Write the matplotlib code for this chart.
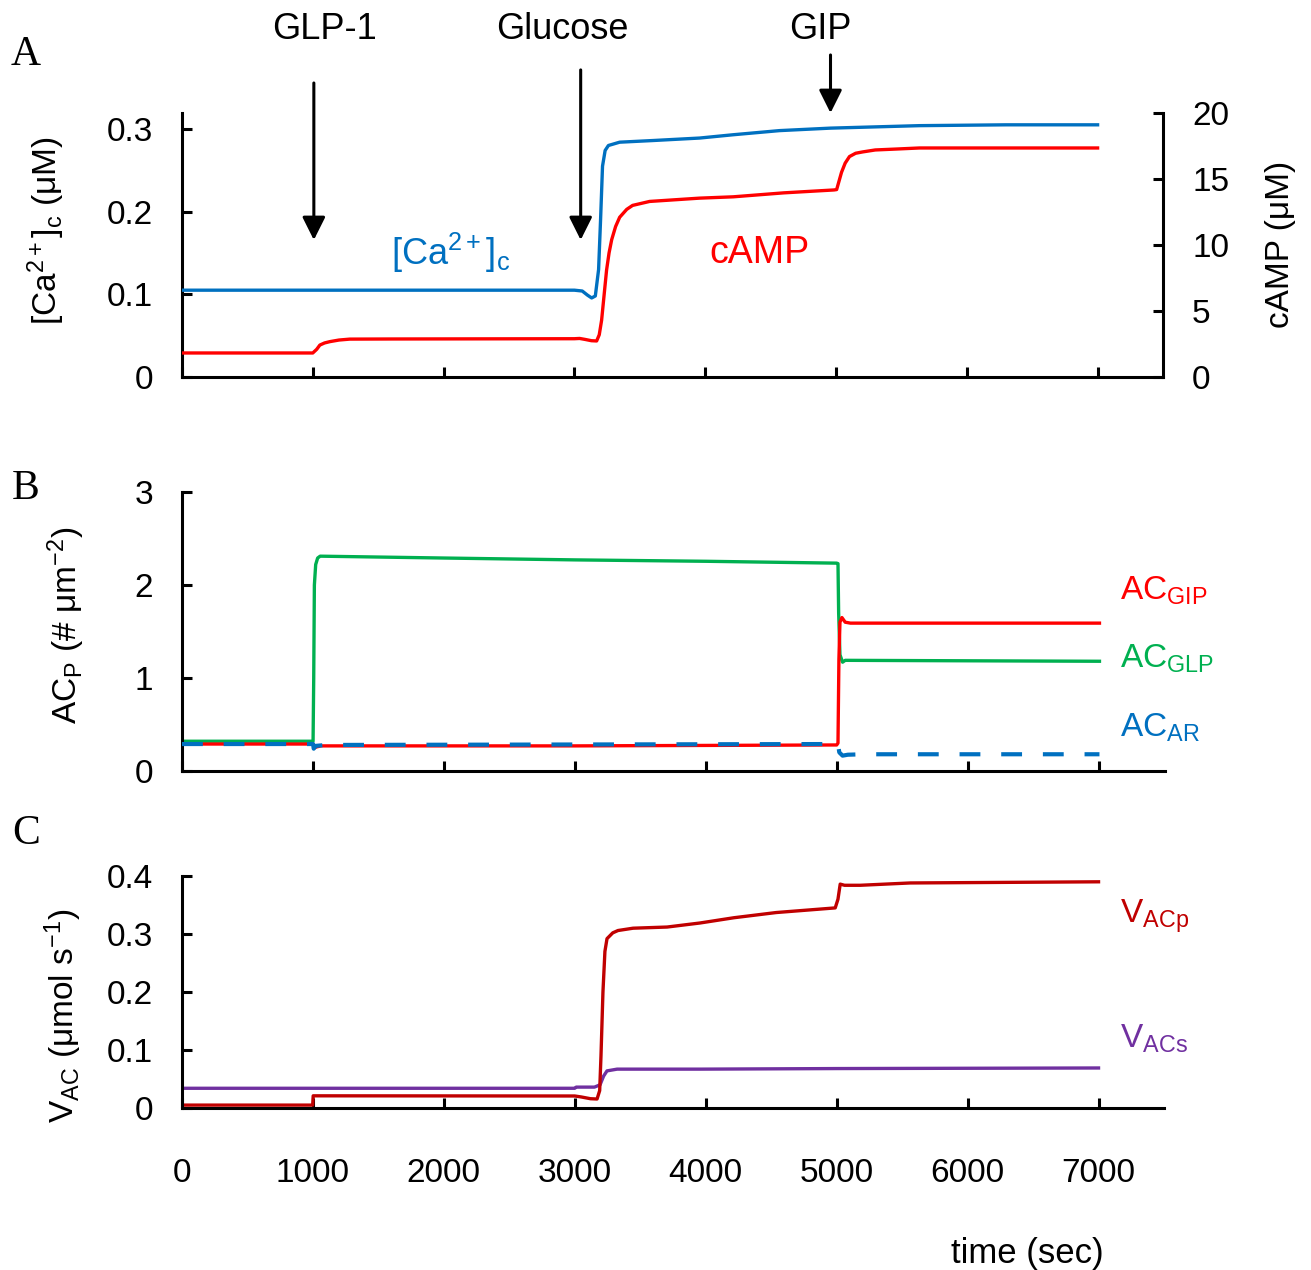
import numpy as np
import matplotlib
matplotlib.use('Agg')
import matplotlib.pyplot as plt

plt.rcParams['font.family'] = ['Liberation Sans', 'DejaVu Sans']
plt.rcParams['mathtext.fontset'] = 'custom'
plt.rcParams['mathtext.rm'] = 'Liberation Sans'
plt.rcParams['mathtext.it'] = 'Liberation Sans:italic'
plt.rcParams['mathtext.bf'] = 'Liberation Sans:bold'

# ---- data ----
# stimulus events
event_names = ['GLP-1', 'Glucose', 'GIP']
event_times = [1008, 3048, 4958]

# panel A: [Ca2+]c (uM, left axis)
ca_t = [0, 1000, 2000, 3000, 3060, 3100, 3132, 3160, 3185, 3200, 3215, 3235,
        3260, 3346, 3600, 3957, 4214, 4568, 4958, 5638, 6300, 7000]
ca_v = [0.105, 0.105, 0.105, 0.105, 0.104, 0.099, 0.0956, 0.098, 0.13, 0.19,
        0.255, 0.274, 0.280, 0.284, 0.286, 0.289, 0.293, 0.298, 0.301, 0.304,
        0.305, 0.305]

# panel A: cAMP (uM, right axis)
camp_t = [0, 1000, 1030, 1054, 1090, 1131, 1200, 1283, 1600, 3000, 3040, 3080,
          3130, 3170, 3190, 3208, 3230, 3246, 3265, 3285, 3315, 3346, 3400,
          3445, 3575, 3957, 4214, 4600, 4985, 5005, 5042, 5070, 5103, 5150,
          5203, 5300, 5462, 5638, 7000]
camp_v = [1.82, 1.82, 2.1, 2.42, 2.58, 2.68, 2.8, 2.87, 2.88, 2.9, 2.92, 2.85,
          2.75, 2.73, 3.2, 4.3, 6.5, 8.1, 9.4, 10.4, 11.4, 12.1, 12.7,
          13.0, 13.3, 13.55, 13.65, 13.95, 14.17, 14.2, 15.5, 16.2, 16.7, 16.95,
          17.05, 17.2, 17.27, 17.35, 17.35]

# panel B: AC_P (# um^-2)
glp_t = [0, 1000, 1005, 1010, 1020, 1035, 1054, 2000, 3000, 4000, 4995, 5005,
         5010, 5020, 5040, 5060, 6000, 7000]
glp_v = [0.32, 0.32, 1.0, 2.0, 2.22, 2.29, 2.31, 2.29, 2.27, 2.255, 2.235, 2.23,
         1.7, 1.25, 1.17, 1.19, 1.185, 1.18]

gip_t = [0, 1000, 1010, 1030, 1060, 3000, 4995, 5005, 5012, 5020, 5035, 5060,
         5100, 7000]
gip_v = [0.29, 0.29, 0.25, 0.26, 0.27, 0.27, 0.28, 0.3, 1.2, 1.6, 1.65, 1.6,
         1.59, 1.59]

ar_t = [0, 1000, 1005, 1020, 1100, 3000, 5000, 5005, 5015, 5040, 5080, 5200,
        7000]
ar_v = [0.29, 0.29, 0.24, 0.27, 0.28, 0.285, 0.29, 0.29, 0.2, 0.165, 0.175,
        0.18, 0.18]

# panel C: V_AC (umol s^-1)
vacp_t = [0, 998, 1002, 3000, 3050, 3120, 3170, 3190, 3200, 3215, 3230, 3246,
          3290, 3330, 3445, 3705, 3957, 4214, 4538, 4989, 5010, 5027, 5060,
          5180, 5562, 7000]
vacp_v = [0.005, 0.005, 0.021, 0.0207, 0.019, 0.016, 0.0155, 0.03, 0.09, 0.2,
          0.27, 0.292, 0.302, 0.306, 0.31, 0.312, 0.319, 0.328, 0.337, 0.345,
          0.36, 0.386, 0.384, 0.384, 0.388, 0.39]

vacs_t = [0, 3000, 3010, 3150, 3193, 3220, 3246, 3323, 3957, 5000, 7000]
vacs_v = [0.034, 0.034, 0.036, 0.036, 0.04, 0.055, 0.064, 0.067, 0.067, 0.068,
          0.069]

BLUE = '#0070C0'
RED = '#FF0000'
GREEN = '#00B050'
DRED = '#C00000'
PURPLE = '#7030A0'

W, H = 1311, 1270
fig = plt.figure(figsize=(W / 100, H / 100), dpi=100)


def px_axes(l, r, b, t):
    return fig.add_axes([l / W, 1 - b / H, (r - l) / W, (b - t) / H])


def style(ax, labels=False):
    for s in ['top', 'right']:
        ax.spines[s].set_visible(False)
    for s in ['left', 'bottom']:
        ax.spines[s].set_linewidth(2.2)
    ax.set_xlim(0, 7500)
    ax.set_xticks(range(0, 7001, 1000))
    ax.tick_params(axis='both', direction='in', length=7, width=2.2,
                   labelsize=24)
    ax.tick_params(axis='y', pad=21)
    if labels:
        ax.tick_params(axis='x', pad=36)
    else:
        ax.set_xticklabels([])


lw = 2.4

# ---- panel A ----
axA = px_axes(182, 1163, 377, 113)
style(axA)
axA.set_ylim(0, 0.3193)
axA.set_yticks([0, 0.1, 0.2, 0.3])
axA.set_yticklabels(['0', '0.1', '0.2', '0.3'])
axA.plot(ca_t, ca_v, color=BLUE, lw=lw, zorder=3)
axA2 = axA.twinx()
for s in ['top', 'left', 'bottom']:
    axA2.spines[s].set_visible(False)
axA2.spines['right'].set_linewidth(2.2)
axA2.set_ylim(0, 20)
axA2.set_yticks([0, 5, 10, 15, 20])
axA2.tick_params(axis='y', direction='in', length=7, width=2.2, labelsize=24,
                 pad=21)
axA2.plot(camp_t, camp_v, color=RED, lw=lw)

fig.text(46 / W, 1 - 231 / H, r'[Ca$^{2+}$]$_{\mathrm{c}}$ (μM)', rotation=90,
         ha='center', va='center', fontsize=24)
fig.text(1281 / W, 1 - 244 / H, 'cAMP (μM)', rotation=90,
         ha='center', va='center', fontsize=24)
fig.text(391 / W, 1 - 265 / H, r'[Ca$^{2+}$]$_{\mathrm{c}}$', color=BLUE,
         fontsize=26, ha='left', va='baseline')
fig.text(709 / W, 1 - 263 / H, 'cAMP', color=RED, fontsize=27,
         ha='left', va='baseline')

# event arrows
arrow_tail = [0.3556, 0.3714, 0.3895]
arrow_tip = [0.1657, 0.1657, 0.3193]
label_x = [325, 562, 820]
for name, t, y0, y1, lx in zip(event_names, event_times, arrow_tail,
                               arrow_tip, label_x):
    axA.annotate('', xy=(t, y1), xytext=(t, y0), annotation_clip=False,
                 arrowprops=dict(arrowstyle='-|>,head_length=1.4,head_width=0.7',
                                 mutation_scale=10, lw=2.2, color='black',
                                 shrinkA=0, shrinkB=0))
    fig.text(lx / W, 1 - 39 / H, name, fontsize=26, ha='center',
             va='baseline')

# ---- panel B ----
axB = px_axes(182, 1165, 771, 492)
style(axB)
axB.set_ylim(0, 3)
axB.set_yticks([0, 1, 2, 3])
axB.plot(gip_t, gip_v, color=RED, lw=lw, zorder=3)
axB.plot(ar_t, ar_v, color=BLUE, lw=3.0, dashes=(5, 5), zorder=4)
axB.plot(glp_t, glp_v, color=GREEN, lw=lw, zorder=2)
fig.text(66 / W, 1 - 625 / H, r'AC$_{\mathrm{P}}$ (# μm$^{-2}$)', rotation=90,
         ha='center', va='center', fontsize=24)
fig.text(1120 / W, 1 - 600 / H, r'AC$_{\mathrm{GIP}}$', color=RED,
         fontsize=24, ha='left', va='baseline')
fig.text(1120 / W, 1 - 668 / H, r'AC$_{\mathrm{GLP}}$', color=GREEN,
         fontsize=24, ha='left', va='baseline')
fig.text(1120 / W, 1 - 737 / H, r'AC$_{\mathrm{AR}}$', color=BLUE,
         fontsize=24, ha='left', va='baseline')

# ---- panel C ----
axC = px_axes(182, 1164, 1108, 876)
style(axC, labels=True)
axC.set_ylim(0, 0.4)
axC.set_yticks([0, 0.1, 0.2, 0.3, 0.4])
axC.set_yticklabels(['0', '0.1', '0.2', '0.3', '0.4'])
axC.plot(vacs_t, vacs_v, color=PURPLE, lw=lw)
axC.plot(vacp_t, vacp_v, color=DRED, lw=lw)
fig.text(63 / W, 1 - 1016 / H, r'V$_{\mathrm{AC}}$ (μmol s$^{-1}$)',
         rotation=90, ha='center', va='center', fontsize=24)
fig.text(1120 / W, 1 - 923 / H, r'V$_{\mathrm{ACp}}$', color=DRED,
         fontsize=24, ha='left', va='baseline')
fig.text(1120 / W, 1 - 1048 / H, r'V$_{\mathrm{ACs}}$', color=PURPLE,
         fontsize=24, ha='left', va='baseline')
fig.text(1027 / W, 1 - 1263 / H, 'time (sec)', fontsize=25, ha='center',
         va='baseline')

# panel letters
for letter, yc in zip(['A', 'B', 'C'], [55, 489, 834]):
    fig.text(26 / W, 1 - yc / H, letter, fontsize=30, ha='center',
             va='center', family='Liberation Serif')

fig.savefig('out.png', dpi=100)
